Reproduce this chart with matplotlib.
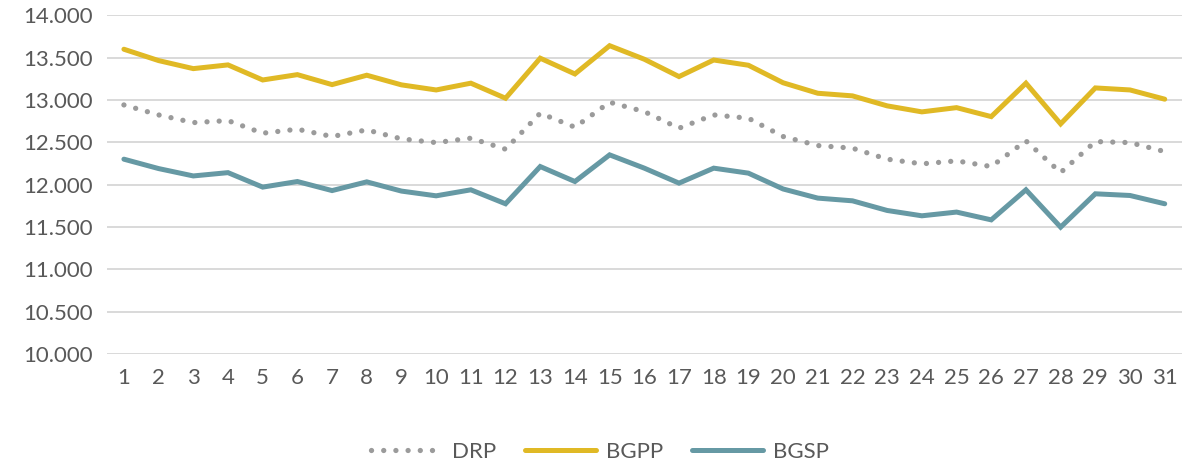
import matplotlib
matplotlib.use("Agg")
import matplotlib.pyplot as plt
from matplotlib.ticker import FuncFormatter, MultipleLocator


# data
days = list(range(1, 32))

drp = [12943, 12825, 12734, 12758, 12609, 12656, 12570, 12648, 12542, 12498,
       12550, 12420, 12845, 12680, 12975, 12864, 12668, 12825, 12786, 12570,
       12463, 12432, 12302, 12247, 12282, 12215, 12518, 12144, 12510, 12498,
       12392]

bgpp = [13601, 13467, 13372, 13416, 13238, 13301, 13183, 13294, 13180, 13120,
        13200, 13022, 13495, 13309, 13643, 13483, 13278, 13474, 13412, 13205,
        13081, 13050, 12932, 12861, 12911, 12805, 13200, 12719, 13144, 13120,
        13011]

bgsp = [12302, 12191, 12104, 12143, 11972, 12038, 11931, 12034, 11925, 11869,
        11940, 11775, 12215, 12038, 12353, 12196, 12019, 12196, 12137, 11950,
        11842, 11810, 11696, 11633, 11677, 11585, 11940, 11499, 11893, 11873,
        11775]

series_names = ["DRP", "BGPP", "BGSP"]

# colours
GRAY = "#9b9b9b"
YELLOW = "#e0b925"
TEAL = "#6699a4"
TEXT = "#595959"
GRID = "#d9d9d9"

plt.rcParams["font.family"] = ["Lato", "DejaVu Sans"]

fig = plt.figure(figsize=(11.88, 4.69), dpi=100, facecolor="white")
ax = fig.add_axes([0.0897, 0.2452, 0.9053, 0.7218])

ax.plot(days, drp, color=GRAY, lw=3.8, linestyle=(0, (0.01, 2.3)),
        dash_capstyle="round", label=series_names[0], zorder=3)
ax.plot(days, bgpp, color=YELLOW, lw=3.6, solid_capstyle="round",
        solid_joinstyle="miter", label=series_names[1], zorder=3)
ax.plot(days, bgsp, color=TEAL, lw=3.6, solid_capstyle="round",
        solid_joinstyle="miter", label=series_names[2], zorder=3)

ax.set_xlim(0.5, 31.5)
ax.set_ylim(10000, 14000)
ax.yaxis.set_major_locator(MultipleLocator(500))
ax.yaxis.set_major_formatter(
    FuncFormatter(lambda v, _: f"{int(v):,}".replace(",", ".")))
ax.set_xticks(days)
ax.set_xticklabels([str(d) for d in days])

ax.grid(axis="y", color=GRID, lw=1.4)
ax.set_axisbelow(True)
for side in ["top", "right", "left", "bottom"]:
    ax.spines[side].set_visible(False)
ax.tick_params(axis="both", length=0, labelsize=16, colors=TEXT)
ax.tick_params(axis="y", pad=10)
ax.tick_params(axis="x", pad=10)

leg = fig.legend(loc="center", bbox_to_anchor=(0.505, 0.036), ncol=3,
                 frameon=False, fontsize=16, handlelength=3.2,
                 columnspacing=1.3, handletextpad=0.45)
for t in leg.get_texts():
    t.set_color(TEXT)

fig.savefig("out.png", dpi=100, facecolor="white")
